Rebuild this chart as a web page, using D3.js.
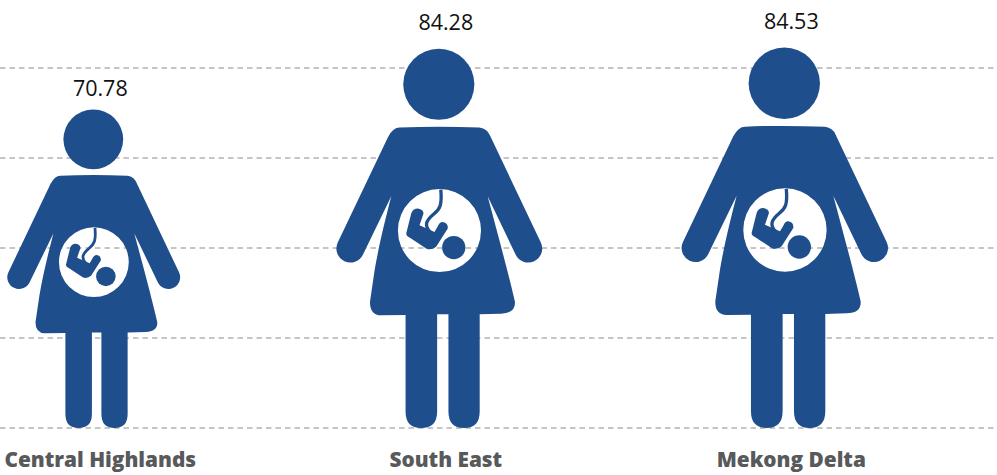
<!DOCTYPE html>
<html><head><meta charset="utf-8">
<script src="https://cdn.jsdelivr.net/npm/d3@7/dist/d3.min.js"></script>
<style>html,body{margin:0;padding:0;background:#fff;overflow:hidden}svg{display:block}</style>
</head><body>
<svg id="chart" width="997" height="475"></svg>
<script>
const categories = ["Central Highlands", "South East", "Mekong Delta"];
const values = [70.78, 84.28, 84.53];
const gridTicks = [0, 20, 40, 60, 80];

const BLUE = "#1f4e8c";
const svg = d3.select("#chart");
const x = d3.scalePoint().domain(categories).range([93.3, 784.3]);
const y = d3.scaleLinear().domain([0, 80]).range([428, 68]);
const labelY = d3.scaleLinear().domain([70.78, 84.53]).range([96, 28.5]);

// icon geometry: drawn in a local box 1141 units tall, scaled to the value
const ICON_H = 1141;
const ICON_BODY =
 "M-118,237 C-40,234 40,234 122,237 Q147,241 154,261 L307,583 A42,42 0 0,1 231,619 " +
 "L147,444 C177,556 212,686 229,761 Q232,796 187,797 L123,799 L123,1091 Q123,1141 76,1141 Q29,1141 29,1091 " +
 "L29,799 L-5,799 L-5,1091 Q-5,1141 -53,1141 Q-100,1141 -100,1091 L-100,801 L-173,802 Q-208,801 -207,761 " +
 "L-193,666 C-180,590 -160,510 -143,444 L-228,619 A42,42 0 0,1 -304,583 L-153,266 Q-138,237 -118,237 Z " +
 "M-123,547 a125,125 0 1,0 250,0 a125,125 0 1,0 -250,0 Z";
const ICON_BABY =
 "M-83,496 L-98,556 Q-98,564 -88,568 L-38,601 Q-23,608 -8,596 L27,541 Q29,524 12,521 Q2,521 -3,534 L-13,551 L-58,531 L-46,496 Q-46,484 -63,481 Q-78,481 -83,496 Z";
const ICON_CORD = "M6,424 C10,470 4,482 -15,497 C-40,518 -44,532 -26,552";

// gridlines
svg.append("g").selectAll("line").data(gridTicks).join("line")
  .attr("x1", 0).attr("x2", 994)
  .attr("y1", d => y(d)).attr("y2", d => y(d))
  .attr("stroke", "#8c8c8c").attr("stroke-width", 1.2).attr("stroke-dasharray", "5.5 4");

// figures
const fig = svg.append("g").selectAll("g").data(categories.map((c, i) => ({c, v: values[i]}))).join("g")
  .attr("transform", d => {
    const h = y(0) - y(d.v);
    return `translate(${x(d.c)},${y(d.v)}) scale(${h / ICON_H})`;
  });
fig.append("circle").attr("cx", 0).attr("cy", 107).attr("r", 107).attr("fill", BLUE);
fig.append("path").attr("d", ICON_BODY).attr("fill", BLUE).attr("fill-rule", "evenodd");
fig.append("path").attr("d", ICON_BABY).attr("fill", BLUE);
fig.append("path").attr("d", ICON_CORD).attr("fill", "none").attr("stroke", BLUE).attr("stroke-width", 10);
fig.append("circle").attr("cx", 45).attr("cy", 598).attr("r", 35).attr("fill", BLUE);

// value labels
svg.append("g").selectAll("text").data(categories.map((c, i) => ({c, v: values[i]}))).join("text")
  .attr("x", d => x(d.c) + 7).attr("y", d => labelY(d.v))
  .attr("text-anchor", "middle")
  .attr("font-family", "'Open Sans', sans-serif").attr("font-size", 21.5).attr("fill", "#111")
  .text(d => d.v.toFixed(2));

// category labels
svg.append("g").selectAll("text").data(categories).join("text")
  .attr("x", d => x(d) + 7).attr("y", 467)
  .attr("text-anchor", "middle")
  .attr("font-family", "'Open Sans', sans-serif").attr("font-weight", 800).attr("font-size", 20.8).attr("fill", "#58595b")
  .text(d => d);
</script>
</body></html>
